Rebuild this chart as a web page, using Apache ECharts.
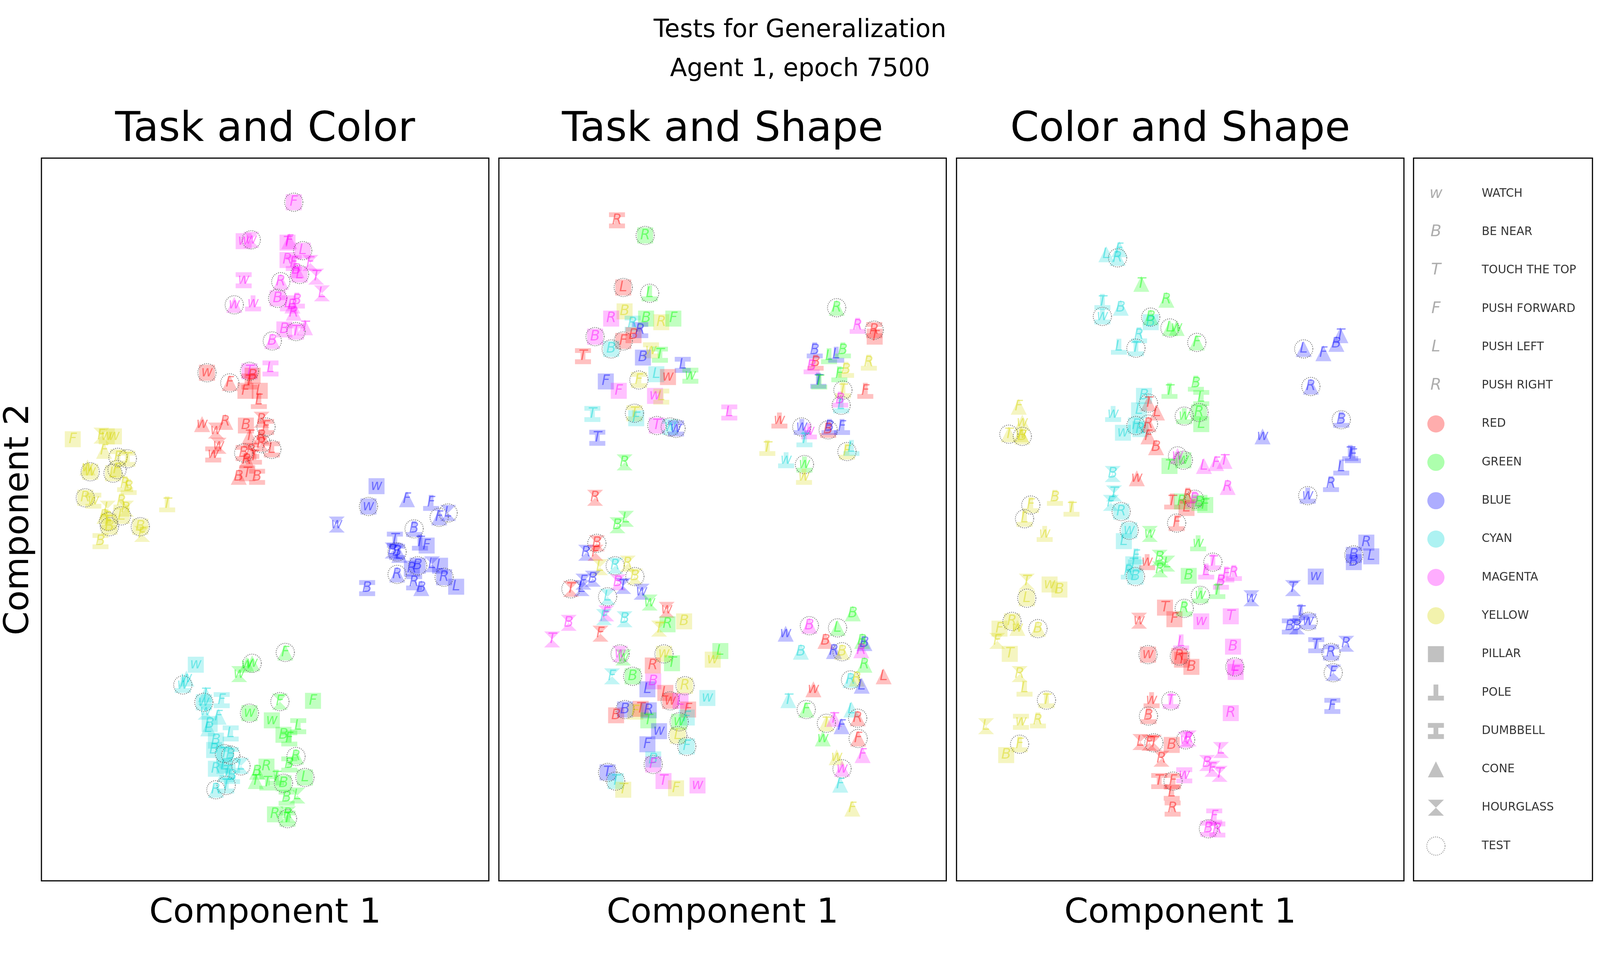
<!DOCTYPE html>
<html>
<head>
<meta charset="utf-8">
<script src="https://cdn.jsdelivr.net/npm/echarts@6/dist/echarts.min.js"></script>
<style>
  html, body { margin: 0; padding: 0; background: #fff; overflow: hidden; }
  #main { width: 100vw; height: 100vh; }
</style>
</head>
<body>
<div id="main"></div>
<script>
// legend / category definitions
const taskKeys = ['W', 'B', 'T', 'F', 'L', 'R'];
const taskGlyphs = ['w', 'B', 'T', 'F', 'L', 'R'];
const taskNames = ['WATCH', 'BE NEAR', 'TOUCH THE TOP', 'PUSH FORWARD', 'PUSH LEFT', 'PUSH RIGHT'];
const colorKeys = ['r', 'g', 'b', 'c', 'm', 'y'];
const colorNames = ['RED', 'GREEN', 'BLUE', 'CYAN', 'MAGENTA', 'YELLOW'];
const shapeKeys = ['P', 'O', 'D', 'C', 'H'];
const shapeNames = ['PILLAR', 'POLE', 'DUMBBELL', 'CONE', 'HOURGLASS'];
const testName = 'TEST';

const suptitleLines = ['Tests for Generalization', 'Agent 1, epoch 7500'];
const panelTitles = ['Task and Color', 'Task and Shape', 'Color and Shape'];
const xName = 'Component 1';
const yName = 'Component 2';

// points: [component1, component2, task, color, shape, test]
const taskColorPts = [
  [56.4,93.9,'F','m','P',1],[45.2,88.5,'W','m','P',0],[46.9,88.7,'W','m','H',1],[55.0,88.3,'T','m','P',0],
  [55.4,88.5,'F','m','C',0],[58.4,87.2,'L','m','P',1],[55.0,85.9,'R','m','P',0],[56.4,85.5,'F','m','D',0],
  [57.0,84.5,'B','m','C',0],[57.7,83.9,'L','m','P',1],[60.1,85.5,'F','m','H',0],[61.4,83.6,'T','m','H',0],
  [62.7,81.3,'L','m','H',0],[45.2,83.1,'W','m','D',0],[53.5,82.9,'R','m','C',1],[43.1,79.7,'W','m','C',1],
  [47.3,79.9,'W','m','O',0],[52.8,80.6,'B','m','P',1],[55.1,79.9,'L','m','D',0],[56.1,79.6,'B','m','C',0],
  [57.1,80.3,'B','m','O',0],[56.4,78.6,'R','m','C',0],[54.3,76.3,'B','m','P',0],[56.9,76.0,'T','m','D',1],
  [58.9,76.6,'T','m','C',0],[51.6,74.7,'B','m','C',1],[51.2,70.9,'L','m','D',0],[46.5,70.5,'T','m','P',1],
  [47.2,69.9,'B','r','P',0],[37.0,70.3,'W','r','P',1],[42.1,68.9,'F','r','C',1],[45.6,67.8,'F','r','P',0],
  [46.5,69.1,'T','r','D',0],[48.8,67.8,'L','r','P',0],[48.6,66.4,'L','r','O',0],[35.9,63.2,'W','r','C',0],
  [41.1,63.5,'R','r','C',0],[39.0,62.3,'W','r','H',0],[39.6,60.2,'W','r','H',0],[38.4,59.0,'W','r','D',0],
  [45.7,63.0,'B','r','P',0],[49.2,63.8,'R','r','H',0],[50.2,62.8,'F','r','D',1],[49.2,61.5,'R','r','C',0],
  [51.5,59.7,'L','r','D',1],[49.2,60.5,'R','r','H',1],[46.5,61.5,'T','r','C',0],[45.2,59.2,'B','r','D',1],
  [46.9,59.5,'R','r','D',0],[45.9,58.2,'R','r','C',0],[47.5,58.7,'T','r','O',0],[44.1,55.9,'B','r','C',0],
  [46.0,56.4,'T','r','P',0],[48.2,55.9,'B','r','D',0],
  [7.0,61.1,'F','y','P',0],[13.4,61.6,'F','y','H',0],[14.6,61.5,'W','y','P',0],[16.2,61.5,'W','y','P',0],
  [14.0,59.5,'F','y','C',0],[17.1,58.6,'F','y','D',1],[19.2,58.4,'T','y','D',1],[10.3,57.2,'W','y','C',0],
  [10.9,56.6,'W','y','P',1],[16.0,56.4,'L','y','P',1],[16.9,56.9,'F','y','C',1],[18.7,54.9,'R','y','O',0],
  [19.5,54.5,'B','y','O',0],[9.8,53.0,'R','y','P',1],[11.6,52.6,'W','y','D',0],[14.8,51.5,'L','y','H',0],
  [17.9,52.5,'R','y','O',0],[17.9,50.5,'L','y','P',1],[18.9,51.5,'R','y','H',0],[14.1,50.5,'R','y','C',0],
  [15.0,49.7,'F','y','D',1],[15.2,49.0,'B','y','P',1],[22.1,49.0,'B','y','P',1],[22.5,48.0,'F','y','H',0],
  [13.2,47.0,'B','y','D',0],[28.1,52.1,'T','y','O',0],
  [74.9,54.6,'W','b','P',0],[73.1,51.8,'W','b','P',1],[66.0,49.3,'W','b','H',0],[81.7,52.8,'F','b','C',0],
  [87.1,52.3,'F','b','O',0],[88.9,50.3,'F','b','C',1],[90.9,50.9,'L','b','H',1],[83.3,48.7,'B','b','O',1],
  [84.6,46.8,'T','b','O',0],[86.1,46.4,'F','b','P',0],[79.0,47.2,'T','b','D',0],[78.5,45.7,'B','b','H',0],
  [79.5,45.5,'B','b','D',1],[80.0,45.1,'L','b','C',0],[79.5,42.4,'R','b','C',1],[82.8,43.2,'R','b','P',0],
  [84.1,43.6,'B','b','P',1],[87.3,43.8,'L','b','H',0],[89.1,43.6,'L','b','P',0],[90.0,42.0,'R','b','P',1],
  [83.3,41.3,'R','b','D',0],[84.9,40.5,'B','b','C',0],[72.8,40.5,'B','b','D',0],[92.7,40.7,'L','b','P',0],
  [34.5,29.9,'W','c','P',0],[31.6,27.1,'W','c','O',1],[32.4,28.0,'W','c','C',0],[36.3,24.7,'W','c','P',1],
  [36.7,25.8,'T','c','C',0],[40.3,25.0,'F','c','D',0],[39.6,22.7,'F','c','C',0],[36.7,23.4,'W','c','H',0],
  [37.6,21.7,'B','c','P',0],[37.3,21.1,'L','c','C',0],[42.3,20.4,'L','c','D',0],[39.0,19.4,'B','c','P',0],
  [38.6,18.1,'B','c','P',0],[40.9,17.6,'T','c','P',1],[42.3,17.4,'B','c','D',1],[44.6,15.9,'L','c','H',1],
  [40.9,15.9,'L','c','P',0],[39.0,15.5,'R','c','P',0],[41.6,15.1,'T','c','D',0],[42.6,14.5,'B','c','D',0],
  [39.0,12.6,'R','c','C',1],[41.3,13.2,'T','c','D',1],
  [54.5,31.6,'F','g','C',1],[44.2,28.6,'W','g','H',0],[45.9,29.9,'W','g','C',0],[47.1,30.1,'W','g','C',1],
  [53.3,24.8,'F','g','H',1],[60.7,24.9,'F','g','P',0],[46.5,23.2,'W','g','P',1],[51.5,22.2,'W','g','P',0],
  [54.1,20.2,'B','g','P',0],[55.4,19.7,'F','g','D',0],[57.4,21.4,'L','g','D',0],[56.9,17.2,'R','g','C',1],
  [55.4,16.1,'B','g','D',0],[48.2,15.1,'B','g','C',0],[50.3,15.8,'R','g','P',0],[52.5,14.3,'T','g','O',0],
  [58.9,14.3,'L','g','P',1],[47.9,13.8,'T','g','C',0],[50.5,13.6,'T','g','D',0],[54.1,13.5,'B','g','P',1],
  [57.2,11.8,'L','g','H',0],[54.8,11.5,'B','g','D',0],[52.2,9.2,'R','g','P',0],[55.0,8.6,'T','g','D',1],
  [55.1,9.2,'R','g','H',0]
];

const taskShapePts = [
  [26.4,91.4,'R','r','D',0],[32.7,89.3,'R','g','P',1],[27.8,82.1,'L','r','P',1],[33.7,81.3,'L','g','O',1],
  [28.1,78.8,'B','y','P',0],[25.1,77.8,'R','m','P',0],[29.9,77.1,'R','c','D',0],[32.9,77.8,'B','g','P',0],
  [36.3,77.3,'R','y','P',0],[39.0,77.8,'F','g','P',0],[21.5,75.3,'B','m','P',1],[30.1,75.5,'B','r','P',0],
  [31.6,76.2,'R','b','D',0],[27.8,74.7,'F','r','P',1],[25.1,73.6,'B','c','P',1],[18.8,72.6,'T','r','D',0],
  [34.0,73.4,'W','y','D',0],[36.0,72.8,'T','g','D',0],[32.2,72.4,'B','b','P',0],[41.1,71.4,'L','b','D',0],
  [42.8,69.9,'W','g','D',0],[35.2,70.1,'L','c','P',0],[37.8,69.7,'W','r','P',0],[23.9,69.1,'F','b','P',0],
  [31.3,69.3,'F','y','D',1],[26.8,67.8,'F','m','P',0],[34.9,67.1,'W','m','P',0],[36.3,67.0,'L','y','D',0],
  [20.9,64.6,'T','c','D',0],[30.3,64.7,'T','y','D',1],[30.7,64.0,'F','c','P',0],[35.3,63.0,'T','m','P',1],
  [38.3,62.8,'W','c','D',1],[39.6,62.6,'W','b','D',1],[51.5,64.8,'L','m','D',0],[22.0,61.3,'T','b','D',0],
  [75.5,79.3,'R','g','C',1],[80.2,76.8,'R','m','O',0],[83.9,76.2,'R','r','D',1],[84.0,75.3,'T','r','P',0],
  [70.6,73.4,'B','b','O',0],[70.8,71.7,'B','r','O',0],[69.9,71.2,'B','m','O',0],[73.8,72.6,'L','g','O',0],
  [75.4,72.8,'L','b','O',0],[76.9,73.4,'B','g','O',0],[77.6,70.7,'B','y','O',0],[76.1,70.1,'F','g','O',0],
  [82.7,71.7,'R','y','O',0],[81.9,67.8,'F','r','O',0],[71.4,69.2,'T','b','O',0],[71.6,69.1,'T','g','O',0],
  [76.9,67.9,'T','y','O',1],[76.5,65.8,'L','c','O',1],[76.3,66.6,'B','m','O',0],[62.7,63.7,'W','r','O',0],
  [67.7,62.8,'W','b','O',1],[69.3,62.2,'W','m','O',0],[68.3,61.1,'T','c','O',0],[73.6,62.4,'B','r','O',1],
  [73.9,62.8,'B','b','O',0],[76.7,62.8,'F','b','O',0],[60.0,59.9,'T','y','O',0],[64.2,58.2,'W','c','O',0],
  [77.8,59.4,'F','y','O',1],[78.8,59.9,'L','c','O',0],[68.3,57.6,'W','g','O',1],[68.2,55.9,'W','y','O',0],
  [28.1,57.9,'R','g','H',0],[21.5,53.0,'R','r','H',0],[26.5,49.2,'B','g','H',0],[28.4,50.1,'L','g','H',0],
  [21.9,46.7,'B','r','H',1],[19.5,45.4,'R','b','H',0],[21.6,45.4,'F','r','H',0],[22.6,43.4,'L','y','H',0],
  [26.0,43.6,'R','c','H',1],[28.8,43.9,'R','y','H',0],[30.4,42.1,'B','y','H',1],[16.1,40.4,'T','r','H',1],
  [18.9,41.4,'F','b','H',0],[18.5,40.5,'L','b','H',0],[21.0,41.8,'B','b','H',0],[24.3,39.3,'L','c','H',1],
  [26.6,41.3,'B','m','H',0],[27.8,40.8,'T','b','H',0],[31.9,40.0,'W','b','H',0],[33.7,38.5,'W','g','H',0],
  [24.0,37.0,'F','m','H',0],[23.5,36.5,'F','c','H',0],[28.1,36.2,'B','c','H',0],[15.6,35.7,'B','m','H',0],
  [22.7,34.2,'F','r','H',0],[11.9,33.4,'T','m','H',0],[37.5,37.5,'W','r','H',0],[37.7,35.5,'R','g','P',0],
  [35.8,34.9,'T','y','H',0],[41.4,35.9,'B','y','P',0],[27.1,31.4,'W','m','H',1],[27.8,30.9,'W','g','H',0],
  [36.9,31.4,'W','y','P',1],[38.7,30.1,'T','g','P',0],[34.4,29.8,'R','r','P',0],[49.5,31.8,'L','g','P',0],
  [47.8,30.6,'W','y','P',0],[25.3,28.3,'F','c','H',0],[29.9,28.3,'B','g','P',1],[34.5,27.6,'B','m','P',0],
  [37.2,26.0,'L','r','P',0],[38.3,24.9,'W','r','P',1],[40.6,24.9,'L','m','P',0],[41.6,27.0,'R','y','P',1],
  [46.6,25.3,'W','c','P',0],[33.2,26.5,'L','b','P',0],[26.2,22.9,'B','r','P',0],[28.2,23.7,'B','b','P',1],
  [30.5,23.4,'F','y','P',0],[31.7,23.8,'T','r','P',0],[33.5,23.6,'R','b','P',0],[42.3,23.7,'F','r','P',0],
  [42.0,22.6,'F','c','P',0],[40.3,22.0,'W','g','P',1],[33.4,22.2,'T','g','P',0],[35.8,20.7,'W','b','P',0],
  [40.0,20.1,'L','y','P',1],[33.2,18.9,'F','b','P',0],[42.0,18.6,'F','c','P',1],[34.5,16.8,'B','c','P',0],
  [34.5,16.1,'F','m','P',1],[24.3,15.0,'T','b','P',1],[26.1,13.8,'T','c','P',1],[27.8,12.6,'T','y','P',0],
  [36.8,13.8,'T','m','P',0],[39.6,12.8,'F','y','P',0],[44.4,13.2,'W','m','P',0],
  [64.1,34.2,'W','b','C',0],[69.4,35.3,'B','m','C',1],[79.1,37.0,'B','g','C',0],[75.7,35.0,'L','g','C',1],
  [73.0,33.2,'B','r','C',0],[74.9,31.8,'R','b','C',0],[76.7,31.7,'B','y','C',1],[67.5,31.7,'B','c','C',0],
  [81.7,32.9,'B','b','C',0],[81.2,33.2,'B','g','C',0],[81.0,31.9,'R','m','C',0],[81.7,29.9,'R','g','C',0],
  [86.0,28.3,'L','r','C',0],[70.3,26.5,'W','r','C',0],[78.6,27.8,'R','c','C',1],[80.0,28.0,'R','y','C',0],
  [81.1,27.0,'L','b','C',0],[64.7,25.0,'T','c','C',0],[68.7,23.7,'F','g','C',1],[78.8,23.7,'L','c','C',0],
  [80.2,22.5,'R','r','C',1],[73.2,21.8,'T','y','C',1],[74.9,22.4,'T','m','C',0],[76.6,21.4,'F','b','C',0],
  [72.4,19.7,'W','g','C',0],[80.3,19.7,'F','r','C',1],[81.3,17.4,'F','m','C',0],[75.5,17.1,'W','y','C',0],
  [76.7,15.5,'W','m','C',1],[76.3,13.3,'F','c','C',0],[79.0,10.0,'F','y','C',0]
];

const colorShapePts = [
  [33.5,86.7,'L','c','C',0],[36.4,87.4,'F','c','C',0],[36.0,86.2,'R','c','C',1],[41.3,82.6,'T','g','C',0],
  [46.9,80.4,'R','g','C',0],[32.6,80.1,'T','c','O',0],[32.6,78.1,'W','c','O',1],[36.7,79.3,'B','c','C',0],
  [43.4,78.0,'B','g','C',1],[43.4,77.3,'B','c','P',0],[47.7,76.5,'L','g','C',1],[49.2,76.5,'W','g','C',0],
  [53.7,74.5,'F','g','C',1],[36.3,73.9,'L','c','O',0],[40.8,75.5,'R','c','O',0],[40.1,73.7,'T','c','O',1],
  [47.6,67.8,'T','g','O',0],[53.5,68.8,'B','g','O',0],[41.9,67.1,'B','c','P',0],[42.9,66.1,'T','r','C',1],
  [40.8,65.1,'L','c','P',0],[44.8,64.8,'L','r','C',0],[35.0,64.6,'W','c','O',0],[54.7,66.8,'L','g','D',0],
  [54.2,64.8,'R','g','P',1],[54.7,63.2,'L','g','P',0],[50.9,64.3,'W','g','O',1],[40.1,63.0,'F','c','P',1],
  [41.1,62.5,'R','c','P',0],[37.2,62.0,'W','c','P',0],[42.9,63.2,'R','r','C',1],[42.9,61.5,'F','r','C',0],
  [44.6,60.0,'B','r','C',0],[47.6,57.4,'T','g','P',0],[49.4,58.8,'W','m','C',1],[50.7,58.2,'W','g','P',1],
  [13.9,65.6,'F','y','C',0],[14.7,63.4,'W','y','C',0],[14.4,61.8,'W','y','C',0],[11.7,61.8,'T','y','C',1],
  [14.7,61.5,'B','y','C',1],[16.6,52.0,'F','y','O',1],[22.0,53.0,'B','y','O',0],[25.7,51.5,'T','y','O',0],
  [15.2,50.1,'L','y','O',1],[19.7,48.0,'W','y','O',0],[15.7,41.4,'T','y','H',0],[20.8,41.0,'W','y','P',0],
  [23.0,40.3,'B','y','P',0],[15.7,39.1,'L','y','P',1],[12.4,35.9,'R','y','P',1],[13.6,35.0,'W','y','C',0],
  [18.2,34.9,'B','y','C',1],[9.6,34.9,'F','y','P',0],[9.1,33.2,'F','y','H',0],[11.9,31.4,'T','y','P',0],
  [14.1,28.6,'R','y','H',0],[15.2,26.6,'L','y','O',0],[20.1,25.0,'T','y','O',1],[6.6,21.4,'L','y','H',0],
  [14.4,22.0,'W','y','D',0],[18.2,22.2,'R','y','O',0],[14.1,18.9,'F','y','O',1],[11.1,17.4,'B','y','P',0],
  [40.3,55.7,'W','r','C',0],[34.9,56.3,'B','c','H',0],[35.2,53.6,'T','c','H',0],[34.5,52.3,'F','c','H',0],
  [36.8,51.1,'R','c','P',1],[38.6,48.5,'W','c','P',1],[37.4,47.0,'L','c','P',0],[40.1,44.9,'F','c','O',0],
  [39.5,43.8,'T','c','P',0],[38.5,42.8,'R','c','O',0],[40.0,42.1,'B','c','P',1],[48.2,52.5,'T','r','O',0],
  [50.4,52.5,'R','g','P',0],[51.4,51.6,'L','r','P',0],[51.7,53.3,'R','r','O',0],[53.2,52.8,'B','m','O',1],
  [54.3,52.3,'B','g','P',0],[55.6,52.0,'F','g','P',0],[49.2,49.5,'F','r','O',1],[43.2,48.0,'W','g','H',0],
  [54.0,46.7,'W','g','O',0],[45.4,44.7,'B','g','H',0],[47.1,43.9,'L','g','H',0],[45.5,43.1,'R','g','H',0],
  [42.6,44.1,'W','r','O',0],[51.9,42.2,'B','g','P',0],[55.8,42.8,'L','m','O',0],[57.3,44.1,'T','m','O',1],
  [60.3,42.4,'F','m','O',0],[62.0,42.6,'R','m','O',0],[59.1,41.4,'B','m','O',0],[54.5,39.5,'W','g','O',1],
  [58.3,40.1,'T','g','O',0],[46.6,37.8,'T','r','P',0],[48.7,36.2,'F','r','P',0],[50.9,37.7,'R','g','O',1],
  [54.7,35.9,'W','m','P',0],[61.3,36.6,'T','m','P',0],[40.8,36.0,'W','r','H',0],[50.2,33.0,'L','m','O',0],
  [49.8,31.1,'R','r','P',1],[50.4,30.6,'T','r','P',0],[52.5,29.6,'B','r','P',0],[42.8,31.3,'W','r','P',1],
  [61.8,32.4,'B','m','P',0],[62.2,29.6,'L','m','P',1],[62.4,28.9,'F','m','P',0],[55.3,57.4,'L','m','C',0],
  [58.0,57.8,'F','m','C',0],[59.9,58.1,'T','m','C',0],[60.6,54.5,'R','m','C',0],[43.6,25.0,'W','r','O',0],
  [47.9,24.9,'T','m','O',1],[42.9,22.8,'B','r','O',1],[61.3,23.2,'R','m','P',0],[41.1,19.2,'L','r','H',0],
  [43.1,19.1,'F','r','H',0],[44.1,19.1,'T','r','H',1],[48.1,18.8,'B','r','P',0],[51.2,19.5,'W','m','H',1],
  [51.9,19.7,'R','m','H',0],[45.8,16.9,'R','r','H',0],[59.1,18.1,'L','m','H',0],[56.0,16.3,'B','m','H',0],
  [57.2,15.5,'F','m','H',0],[58.8,14.8,'T','m','H',0],[45.3,13.8,'T','r','D',0],[48.4,13.8,'F','r','D',1],
  [48.1,12.2,'L','r','D',0],[48.3,10.0,'R','r','D',0],[50.9,14.6,'W','m','D',0],[57.6,8.9,'F','m','D',0],
  [56.3,7.2,'B','m','D',1],[58.3,7.1,'R','m','D',0],
  [77.6,73.6,'L','b','C',1],[82.0,73.0,'F','b','C',0],[84.9,74.3,'B','b','C',0],[85.8,75.5,'T','b','C',0],
  [79.2,68.4,'R','b','C',1],[86.0,63.8,'B','b','O',1],[68.4,61.5,'W','b','C',0],[88.0,59.2,'T','b','O',0],
  [88.6,58.9,'F','b','O',0],[86.0,57.2,'L','b','O',0],[83.7,54.9,'R','b','O',0],[78.5,53.3,'W','b','O',1],
  [91.6,46.8,'R','b','P',0],[92.7,44.9,'L','b','P',0],[88.8,45.1,'B','b','P',1],[88.8,44.1,'B','b','P',0],
  [80.3,42.1,'W','b','P',0],[75.2,40.5,'T','b','H',0],[65.9,39.1,'W','b','H',0],[76.9,37.2,'T','b','O',0],
  [74.5,35.2,'B','b','D',0],[76.1,35.2,'B','b','H',0],[78.6,35.9,'W','b','D',1],[80.4,32.6,'T','b','D',0],
  [83.7,31.6,'R','b','D',1],[87.1,32.8,'R','b','H',0],[84.2,28.8,'F','b','H',1],[84.0,24.2,'F','b','D',0]
];

const panelPoints = [taskColorPts, taskShapePts, colorShapePts];

// styling
const colorRgb = ['255,0,0', '0,255,0', '0,0,255', '0,215,215', '255,0,255', '215,215,0'];
const shapePaths = [
  'path://M0 0 H10 V10 H0 Z',
  'path://M3.5 0 H6.5 V7 H10 V10 H0 V7 H3.5 Z',
  'path://M0 0 H10 V3 H6.5 V7 H10 V10 H0 V7 H3.5 V3 H0 Z',
  'path://M5 0 L10 10 H0 Z',
  'path://M0 0 H10 L0 10 H10 Z'
];
const font = 'DejaVu Sans';

// layout is designed for 7646 x 2446 and scaled to the real window
const dom = document.getElementById('main');
const W = dom.clientWidth || 7646, H = dom.clientHeight || 2446;
const sx = W / 7646, sy = H / 2446;
const sm = Math.min(Math.sqrt(sx * sy), Math.max(sx, sy));
const X = v => v * sx, Y = v => v * sy, S = v => v * sm;

const gridLefts = [198, 2384, 4571];
const gridTop = 405, gridHeight = 1851, gridWidth = 2138;
const legendLeft = 6755, legendWidth = 855;

const frame = { show: true, borderColor: '#000', borderWidth: Math.max(2, S(4)), backgroundColor: '#fff' };
const grids = gridLefts.map(l => Object.assign({ left: X(l), top: Y(gridTop), width: X(gridWidth), height: Y(gridHeight) }, frame));
grids.push(Object.assign({ left: X(legendLeft), top: Y(gridTop), width: X(legendWidth), height: Y(gridHeight) }, frame));

const hidden = { axisLine: { show: false }, axisTick: { show: false }, axisLabel: { show: false }, splitLine: { show: false } };
const nameFs = S(120);
const nameStyle = { fontSize: nameFs, lineHeight: nameFs, fontFamily: font, color: '#000' };

const xAxes = gridLefts.map((l, i) => Object.assign({
  gridIndex: i, type: 'value', min: 0, max: 100,
  name: xName, nameLocation: 'middle', nameGap: Y(84) - nameFs / 2, nameTextStyle: nameStyle
}, hidden));
xAxes.push(Object.assign({ gridIndex: 3, type: 'value', min: 0, max: 1 }, hidden));

const yAxes = gridLefts.map((l, i) => Object.assign({
  gridIndex: i, type: 'value', min: 0, max: 100
}, hidden, i === 0 ? { name: yName, nameLocation: 'middle', nameGap: Math.max(4, X(106) - nameFs / 2), nameRotate: 90, nameTextStyle: nameStyle } : {}));
yAxes.push(Object.assign({ gridIndex: 3, type: 'value', min: -0.926, max: 17.905, inverse: true }, hidden));

const series = [];
panelPoints.forEach((pts, i) => {
  series.push({
    type: 'scatter', xAxisIndex: i, yAxisIndex: i, symbolSize: S(56),
    data: pts.map(p => {
      const rgb = colorRgb[colorKeys.indexOf(p[3])];
      return {
        name: taskGlyphs[taskKeys.indexOf(p[2])],
        value: [p[0], p[1]],
        symbol: shapePaths[shapeKeys.indexOf(p[4])],
        itemStyle: { color: 'rgba(' + rgb + ',0.3)' },
        label: { color: 'rgba(' + rgb + ',0.55)' }
      };
    }),
    label: { show: true, position: 'inside', formatter: '{b}', fontSize: S(50), fontStyle: 'italic', fontFamily: font }
  });
  series.push({
    type: 'scatter', xAxisIndex: i, yAxisIndex: i, symbol: 'circle', symbolSize: S(64),
    itemStyle: { color: 'rgba(0,0,0,0)', borderColor: '#555', borderWidth: S(3), borderType: [S(3), S(4)] },
    data: pts.filter(p => p[5]).map(p => [p[0], p[1]])
  });
});

// legend panel
const legendRows = taskNames.concat(colorNames, shapeNames, [testName]);
const mx = 0.125, tx = 0.38;
const legendFs = Math.min(S(55), X(55));
series.push({
  type: 'scatter', xAxisIndex: 3, yAxisIndex: 3, symbolSize: 1,
  itemStyle: { color: 'rgba(0,0,0,0)' },
  data: legendRows.map((n, i) => ({ name: n, value: [tx, i] })),
  label: { show: true, position: 'right', distance: 0, formatter: '{b}', fontSize: legendFs, fontFamily: font, color: '#000' }
});
series.push({
  type: 'scatter', xAxisIndex: 3, yAxisIndex: 3, symbolSize: 1,
  itemStyle: { color: 'rgba(0,0,0,0)' },
  data: taskGlyphs.map((g, i) => ({ name: g, value: [mx, i] })),
  label: { show: true, position: 'inside', formatter: '{b}', fontSize: S(56), fontStyle: 'italic', fontFamily: font, color: 'rgba(0,0,0,0.4)' }
});
series.push({
  type: 'scatter', xAxisIndex: 3, yAxisIndex: 3, symbol: 'circle', symbolSize: S(60),
  data: colorRgb.map((c, i) => ({ value: [mx, taskNames.length + i], itemStyle: { color: 'rgba(' + c + ',0.4)' } }))
});
series.push({
  type: 'scatter', xAxisIndex: 3, yAxisIndex: 3, symbolSize: S(56),
  itemStyle: { color: 'rgba(0,0,0,0.3)' },
  data: shapePaths.map((s, i) => ({ value: [mx, taskNames.length + colorNames.length + i], symbol: s }))
});
series.push({
  type: 'scatter', xAxisIndex: 3, yAxisIndex: 3, symbol: 'circle', symbolSize: S(64),
  itemStyle: { color: 'rgba(0,0,0,0)', borderColor: '#777', borderWidth: S(3), borderType: [S(3), S(4)] },
  data: [[mx, legendRows.length - 1]]
});

const supFs = S(87), supLh = Y(100);
const panelFs = S(144);
const titles = [{
  text: suptitleLines.join('\n'), left: X(3823), top: Y(78) - supLh / 2, textAlign: 'center', padding: 0,
  textStyle: { fontSize: supFs, lineHeight: supLh, fontWeight: 'normal', fontFamily: font, color: '#000' }
}].concat(panelTitles.map((t, i) => ({
  text: t, left: X(gridLefts[i] + gridWidth / 2), top: Y(334) - panelFs / 2, textAlign: 'center', padding: 0,
  textStyle: { fontSize: panelFs, lineHeight: panelFs, fontWeight: 'normal', fontFamily: font, color: '#000' }
})));

const chart = echarts.init(dom);
chart.setOption({
  backgroundColor: '#fff',
  animation: false,
  title: titles,
  grid: grids,
  xAxis: xAxes,
  yAxis: yAxes,
  series: series
});
</script>
</body>
</html>
